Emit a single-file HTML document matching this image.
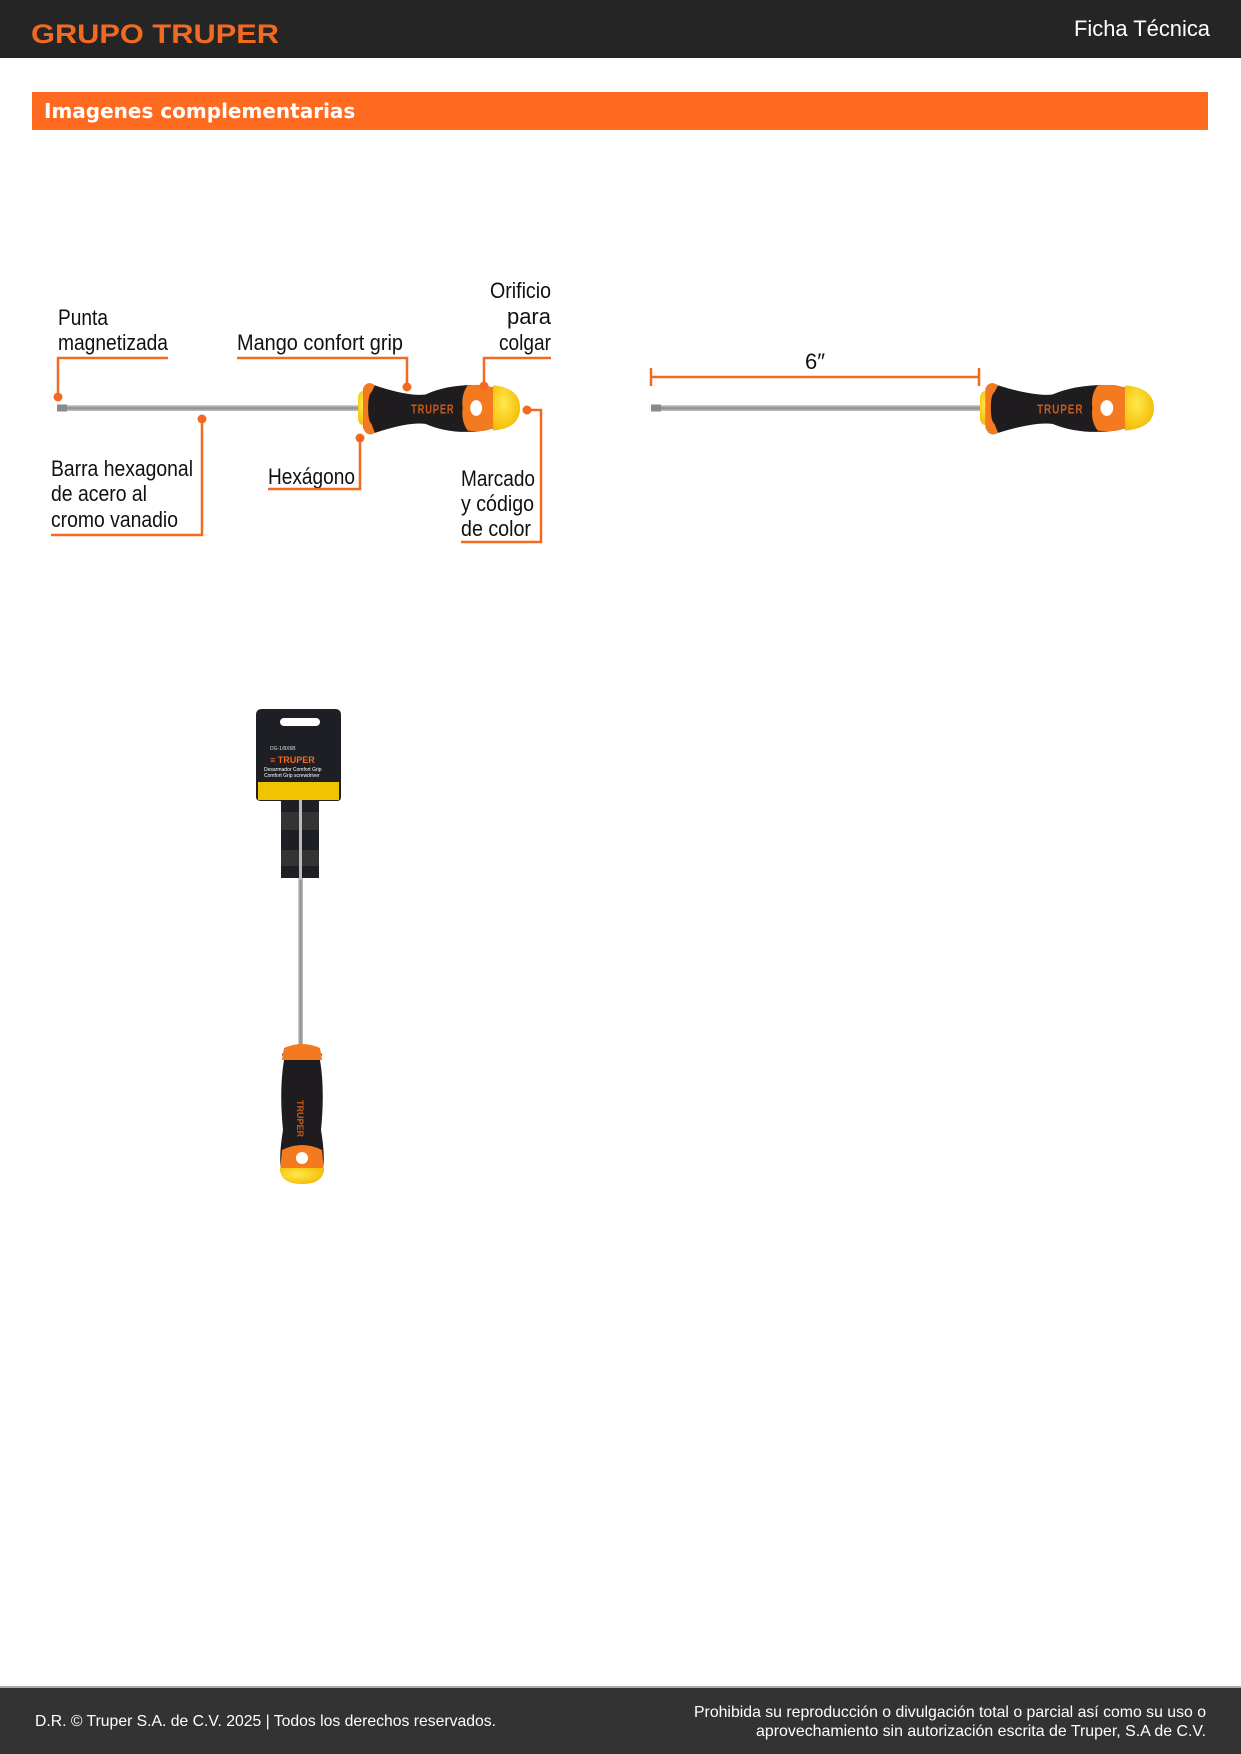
<!DOCTYPE html>
<html><head><meta charset="utf-8"><style>
html,body{margin:0;padding:0;background:#fff}
body{width:1241px;height:1754px;position:relative;overflow:hidden;font-family:"Liberation Sans",sans-serif}
</style></head><body>
<svg width="1241" height="1754" viewBox="0 0 1241 1754" xmlns="http://www.w3.org/2000/svg" style="position:absolute;left:0;top:0">
<defs>
<linearGradient id="shaft" x1="0" y1="0" x2="0" y2="1"><stop offset="0" stop-color="#d8d8d8"/><stop offset="0.5" stop-color="#8a8a8a"/><stop offset="1" stop-color="#c4c4c4"/></linearGradient>
<linearGradient id="vshaft" x1="0" y1="0" x2="1" y2="0"><stop offset="0" stop-color="#d8d8d8"/><stop offset="0.5" stop-color="#8a8a8a"/><stop offset="1" stop-color="#c4c4c4"/></linearGradient>
<radialGradient id="yel" cx="0.4" cy="0.4" r="0.7"><stop offset="0" stop-color="#ffe94a"/><stop offset="1" stop-color="#f2b800"/></radialGradient>
<g id="hd">
 <rect x="0" y="-15" width="14" height="30" rx="6" fill="url(#yel)"/>
 <path d="M6,-17 Q10,-25 20,-20 Q60,-10 80,-12 Q110,-22 150,-20 L160,-18 L160,18 L150,20 Q110,24 80,14 Q60,12 20,22 Q10,26 6,17 Z" fill="#1e1c1e"/>
 <path d="M6,-17 Q10,-25 20,-20 L16,-14 Q12,-12 12,0 Q12,12 16,14 L20,22 Q10,26 6,17 Z" fill="#f47a1f"/>
 <path d="M130,-20 Q155,-22 162,-16 L162,16 Q155,22 130,20 Q122,12 124,0 Q122,-12 130,-20 Z" fill="#f47a1f"/>
 <circle cx="140" cy="0" r="7" fill="#fff"/>
 <path d="M160,-20 Q192,-18 192,0 Q192,18 160,20 Z" fill="url(#yel)"/>
 <text x="63" y="5" font-size="11" font-weight="bold" fill="#c85a1a" letter-spacing="1" font-family="Liberation Sans,sans-serif">TRUPER</text>
</g>
</defs>
<rect x="0" y="0" width="1241" height="58" fill="#252525"/>
<text x="31" y="43" font-size="27" font-weight="bold" fill="#f26a21" font-family="Liberation Sans,sans-serif" textLength="248" lengthAdjust="spacingAndGlyphs">GRUPO TRUPER</text>
<text x="1074" y="36" font-size="22" fill="#fff" textLength="136" lengthAdjust="spacingAndGlyphs">Ficha Técnica</text>
<rect x="32" y="92" width="1176" height="38" fill="#ff6a21"/>
<text x="44" y="118" font-size="20" font-weight="bold" fill="#fff" font-family="DejaVu Sans,sans-serif">Imagenes complementarias</text>
<rect x="57" y="405" width="303" height="6" fill="url(#shaft)"/>
<rect x="57" y="404.5" width="10" height="7" fill="#8a8a8a"/>
<use href="#hd" transform="translate(358,408) scale(0.844,1.13)"/>
<g font-family="Liberation Sans,sans-serif" font-size="22" fill="#111">
<text x="58" y="325" textLength="50" lengthAdjust="spacingAndGlyphs">Punta</text>
<text x="58" y="350" textLength="110" lengthAdjust="spacingAndGlyphs">magnetizada</text>
<text x="237" y="350" textLength="166" lengthAdjust="spacingAndGlyphs">Mango confort grip</text>
<text x="490" y="298" textLength="61" lengthAdjust="spacingAndGlyphs">Orificio</text>
<text x="551" y="324" text-anchor="end">para</text>
<text x="499" y="350" textLength="52" lengthAdjust="spacingAndGlyphs">colgar</text>
<text x="51" y="476" textLength="142" lengthAdjust="spacingAndGlyphs">Barra hexagonal</text>
<text x="51" y="501" textLength="96" lengthAdjust="spacingAndGlyphs">de acero al</text>
<text x="51" y="527" textLength="127" lengthAdjust="spacingAndGlyphs">cromo vanadio</text>
<text x="268" y="484" textLength="87" lengthAdjust="spacingAndGlyphs">Hexágono</text>
<text x="461" y="486" textLength="74" lengthAdjust="spacingAndGlyphs">Marcado</text>
<text x="461" y="511" textLength="73" lengthAdjust="spacingAndGlyphs">y código</text>
<text x="461" y="536" textLength="70" lengthAdjust="spacingAndGlyphs">de color</text>
</g>
<g stroke="#f26a21" stroke-width="2.5" fill="none">
<polyline points="168,358 58,358 58,397"/>
<polyline points="237,358 407,358 407,387"/>
<polyline points="551,358 484,358 484,386"/>
<polyline points="51,535 202,535 202,419"/>
<polyline points="268,489 360,489 360,438"/>
<polyline points="461,542 541,542 541,410 527,410"/>
</g>
<g fill="#f26a21">
<circle cx="58" cy="397" r="4.5"/><circle cx="407" cy="387" r="4.5"/><circle cx="484" cy="386" r="4.5"/>
<circle cx="202" cy="419" r="4.5"/><circle cx="360" cy="438" r="4.5"/><circle cx="527" cy="410" r="4.5"/>
</g>
<rect x="651" y="405" width="333" height="6" fill="url(#shaft)"/>
<rect x="651" y="404.5" width="10" height="7" fill="#8a8a8a"/>
<use href="#hd" transform="translate(980,408) scale(0.906,1.13)"/>
<g stroke="#f26a21" stroke-width="2.5"><line x1="651" y1="377" x2="979" y2="377"/><line x1="651" y1="368" x2="651" y2="386"/><line x1="979" y1="368" x2="979" y2="386"/></g>
<text x="815" y="369" font-size="22" fill="#111" text-anchor="middle">6″</text>
<rect x="298" y="790" width="5" height="260" fill="url(#vshaft)"/>
<path d="M262,709 L335,709 Q341,709 341,715 L341,797 Q341,801 337,801 L319,801 L319,878 L281,878 L281,801 L262,801 Q256,801 256,797 L256,715 Q256,709 262,709 Z" fill="#1d1f24"/>
<rect x="280" y="718" width="40" height="8" rx="4" fill="#fff"/>
<rect x="258" y="782" width="81" height="18" fill="#f2c300"/>
<text x="270" y="750" font-size="5" fill="#ddd">DG-1/8X6B</text>
<text x="270" y="763" font-size="9" font-weight="bold" fill="#f26a21">≡ TRUPER</text>
<text x="264" y="771" font-size="5" fill="#fff">Desarmador Comfort Grip</text>
<text x="264" y="777" font-size="5" fill="#fff">Comfort Grip screwdriver</text>
<rect x="281" y="812" width="38" height="18" fill="#333"/>
<rect x="281" y="850" width="38" height="16" fill="#333"/>
<rect x="299" y="800" width="3" height="80" fill="#bbb"/>
<path d="M282,1054 Q302,1040 322,1054 L320,1060 Q325,1090 321,1130 Q326,1160 322,1175 L282,1175 Q278,1160 283,1130 Q279,1090 284,1060 Z" fill="#1e1c1e"/>
<path d="M284,1048 Q302,1040 320,1048 L322,1060 L282,1060 Z" fill="#f47a1f"/>
<path d="M282,1150 Q302,1140 322,1150 L324,1172 L280,1172 Z" fill="#f47a1f"/>
<circle cx="302" cy="1158" r="6" fill="#fff"/>
<path d="M280,1168 L324,1168 Q324,1184 302,1184 Q280,1184 280,1168 Z" fill="url(#yel)"/>
<text transform="translate(297,1100) rotate(90)" font-size="9" font-weight="bold" fill="#c85a1a">TRUPER</text>
<rect x="0" y="1686" width="1241" height="2" fill="#aaa"/>
<rect x="0" y="1688" width="1241" height="66" fill="#333"/>
<g font-family="Liberation Sans,sans-serif" font-size="16" fill="#fff">
<text x="35" y="1726" textLength="461" lengthAdjust="spacingAndGlyphs">D.R. © Truper S.A. de C.V. 2025 | Todos los derechos reservados.</text>
<text x="694" y="1717" textLength="512" lengthAdjust="spacingAndGlyphs">Prohibida su reproducción o divulgación total o parcial así como su uso o</text>
<text x="756" y="1736" textLength="450" lengthAdjust="spacingAndGlyphs">aprovechamiento sin autorización escrita de Truper, S.A de C.V.</text>
</g>
</svg>
</body></html>
